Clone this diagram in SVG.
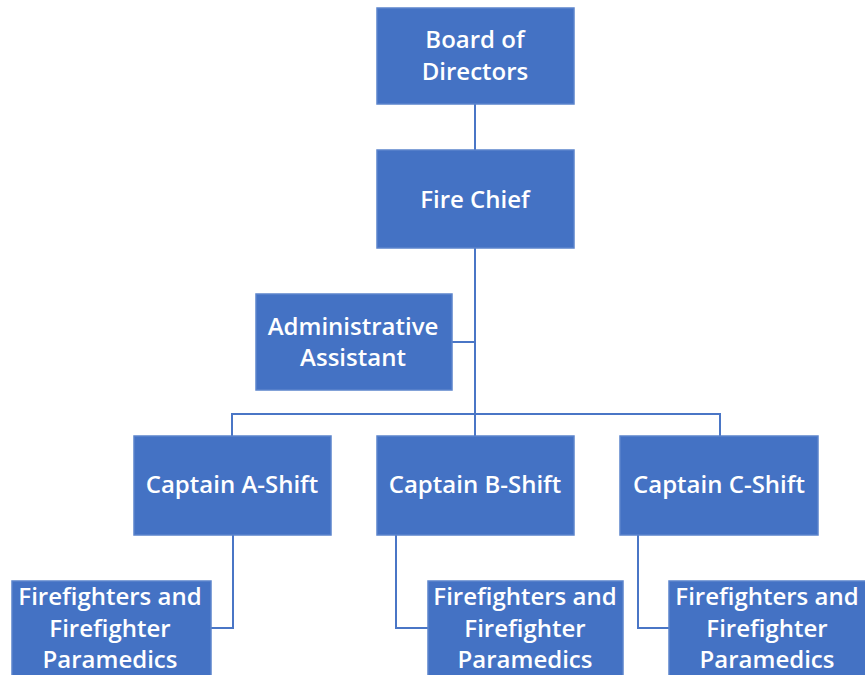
<svg xmlns="http://www.w3.org/2000/svg" width="865" height="675" viewBox="0 0 865 675">
<style>
.box{fill:#4472C4;stroke:#5B84CC;stroke-width:1.5}
.t{font-family:"Open Sans","Noto Sans",sans-serif;font-size:24px;font-weight:600;fill:#ffffff;text-anchor:middle;dominant-baseline:central}
.c{fill:none;stroke:#4A76C6;stroke-width:2}
</style>
<rect width="865" height="675" fill="#ffffff"/>
<g id="connectors">
<line class="c" x1="475" y1="104" x2="475" y2="150"/>
<line class="c" x1="475" y1="248" x2="475" y2="436"/>
<line class="c" x1="452" y1="342" x2="475" y2="342"/>
<polyline class="c" points="232,436 232,414 720,414 720,436"/>
<polyline class="c" points="233,535 233,628 211,628"/>
<polyline class="c" points="396,535 396,628 428,628"/>
<polyline class="c" points="638,535 638,628 669,628"/>
</g>
<g id="board">
<rect class="box" x="377" y="8" width="197" height="96"/>
<text class="t" x="475" y="38">Board of</text>
<text class="t" x="475" y="70">Directors</text>
</g>
<g id="chief">
<rect class="box" x="377" y="150" width="197" height="98"/>
<text class="t" x="475" y="198">Fire Chief</text>
</g>
<g id="admin">
<rect class="box" x="256" y="294" width="196" height="96"/>
<text class="t" x="353" y="325">Administrative</text>
<text class="t" x="353" y="356">Assistant</text>
</g>
<g id="captainA">
<rect class="box" x="134" y="436" width="197" height="99"/>
<text class="t" x="232" y="483">Captain A-Shift</text>
</g>
<g id="captainB">
<rect class="box" x="377" y="436" width="197" height="99"/>
<text class="t" x="475" y="483">Captain B-Shift</text>
</g>
<g id="captainC">
<rect class="box" x="620" y="436" width="198" height="99"/>
<text class="t" x="719" y="483">Captain C-Shift</text>
</g>
<g id="ffA">
<rect class="box" x="12" y="581" width="199" height="100"/>
<text class="t" x="110" y="595">Firefighters and</text>
<text class="t" x="110" y="627">Firefighter</text>
<text class="t" x="110" y="658">Paramedics</text>
</g>
<g id="ffB">
<rect class="box" x="428" y="581" width="195" height="100"/>
<text class="t" x="525" y="595">Firefighters and</text>
<text class="t" x="525" y="627">Firefighter</text>
<text class="t" x="525" y="658">Paramedics</text>
</g>
<g id="ffC">
<rect class="box" x="669" y="581" width="200" height="100"/>
<text class="t" x="767" y="595">Firefighters and</text>
<text class="t" x="767" y="627">Firefighter</text>
<text class="t" x="767" y="658">Paramedics</text>
</g>
</svg>
